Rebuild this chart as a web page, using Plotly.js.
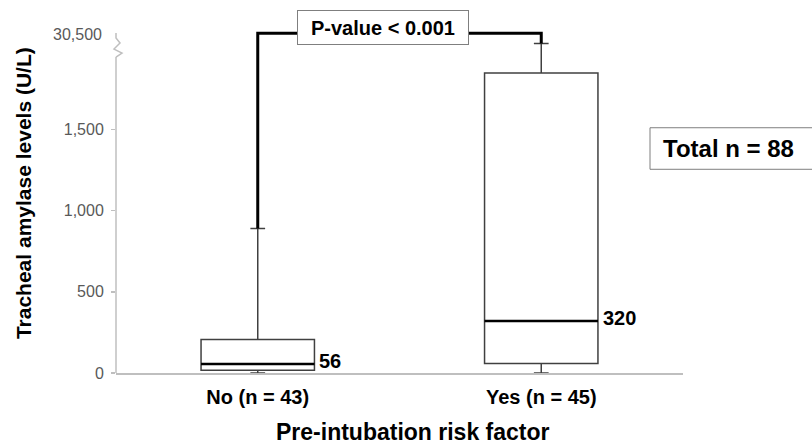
<!DOCTYPE html>
<html>
<head>
<meta charset="utf-8">
<script src="https://cdn.plot.ly/plotly-3.0.1.min.js"></script>
<style>html,body{margin:0;padding:0;background:#fff;}#chart{width:812px;height:445px;}</style>
</head>
<body>
<div id="chart"></div>
<script>
// ---- data ----
const categories = ['No (n = 43)', 'Yes (n = 45)'];
const lowerFence = [0, 0];
const q1 = [17, 58];
const median = [56, 320];
const q3 = [206, 1848];
const upperFence = [891, 30500];
const yTickVals = [0, 500, 1000, 1500];
const yTickText = ['0', '500', '1,000', '1,500'];
const brokenTickLabel = '30,500';
const pValueText = 'P-value < 0.001';
const totalText = 'Total n = 88';

// ---- broken axis handling ----
const AXIS_BREAK = 2000;     // values above this are drawn at the break
const BREAK_DRAW = 2031;     // axis position where values above the break are drawn
const BREAK_LABEL = 2083;    // axis position of the broken-axis tick label
const BREAK_START = 1947;    // where the axis line zigzag begins
const BRACKET_Y = 2093;
const toAxis = v => (v > AXIS_BREAK ? BREAK_DRAW : v);

const FONT = 'Liberation Sans, Arial, sans-serif';
const BOX_W = 0.4;

const traces = categories.map((c, i) => ({
  type: 'box',
  x: [i],
  q1: [toAxis(q1[i])],
  median: [toAxis(median[i])],
  q3: [toAxis(q3[i])],
  lowerfence: [toAxis(lowerFence[i])],
  upperfence: [toAxis(upperFence[i])],
  width: BOX_W,
  whiskerwidth: 0.13,
  boxpoints: false,
  fillcolor: 'rgba(255,255,255,1)',
  line: {color: '#404040', width: 1.5},
  hoverinfo: 'skip',
  showlegend: false
}));

const shapes = [];
// thick median lines
categories.forEach((c, i) => {
  shapes.push({type: 'line', xref: 'x', yref: 'y', x0: i - BOX_W / 2, x1: i + BOX_W / 2,
    y0: toAxis(median[i]), y1: toAxis(median[i]), line: {color: '#000', width: 2.5}});
});
// y axis line (broken)
shapes.push({type: 'line', xref: 'paper', yref: 'y', x0: 0, x1: 0, y0: 0, y1: BREAK_START,
  line: {color: '#bfbfbf', width: 1.5}});
shapes.push({type: 'path', xref: 'paper', yref: 'y', xsizemode: 'pixel', ysizemode: 'pixel',
  xanchor: 0, yanchor: BREAK_START,
  path: 'M0,0 L6,4 L-2,8 L4,14 L0,19 L0,24',
  line: {color: '#bfbfbf', width: 1.5}});
// significance bracket
shapes.push({type: 'path', xref: 'x', yref: 'y',
  path: 'M0,' + toAxis(upperFence[0]) + ' L0,' + BRACKET_Y + ' L1,' + BRACKET_Y + ' L1,' + toAxis(upperFence[1]),
  line: {color: '#000', width: 3}});
// Total box (extends past the right edge)
shapes.push({type: 'rect', xref: 'paper', yref: 'paper', x0: 0.9418, x1: 1.4, y0: 0.5706, y1: 0.687,
  line: {color: '#7f7f7f', width: 1}, fillcolor: 'rgba(0,0,0,0)'});

const annotations = [];
categories.forEach((c, i) => {
  annotations.push({xref: 'x', yref: 'y', x: i + BOX_W / 2, y: toAxis(median[i]),
    xanchor: 'left', yanchor: 'middle', xshift: 3, yshift: 3, showarrow: false,
    text: String(median[i]), font: {family: FONT, size: 20, color: '#000', weight: 'bold'}});
});
annotations.push({xref: 'paper', yref: 'y', x: 0, y: BREAK_LABEL, xanchor: 'right', yanchor: 'middle',
  xshift: -12, showarrow: false, text: brokenTickLabel, font: {family: FONT, size: 16, color: '#595959'}});
annotations.push({xref: 'paper', yref: 'y', x: 0.471, y: 2132, xanchor: 'center', yanchor: 'middle',
  showarrow: false, text: '<b>' + pValueText + '</b>', font: {family: FONT, size: 20, color: '#000'},
  bgcolor: '#ffffff', bordercolor: '#7f7f7f', borderwidth: 1, borderpad: 4, width: 162, height: 25});
annotations.push({xref: 'paper', yref: 'paper', x: 0.9612, y: 0.629, xanchor: 'left', yanchor: 'middle',
  showarrow: false, text: '<b>' + totalText + '</b>', font: {family: FONT, size: 24, color: '#000'}});
annotations.push({xref: 'paper', yref: 'paper', x: -0.164, y: 0.504, xanchor: 'center', yanchor: 'middle',
  textangle: -90, showarrow: false, text: '<b>Tracheal amylase levels (U/L)</b>',
  font: {family: FONT, size: 21, color: '#000'}});
annotations.push({xref: 'paper', yref: 'paper', x: 0.523, y: -0.1644, xanchor: 'center', yanchor: 'middle',
  showarrow: false, text: '<b>Pre-intubation risk factor</b>',
  font: {family: FONT, size: 23, color: '#000'}});

const layout = {
  width: 812, height: 445,
  margin: {l: 116, r: 129, t: 16, b: 72, pad: 0},
  paper_bgcolor: '#fff', plot_bgcolor: '#fff',
  showlegend: false,
  xaxis: {
    range: [-0.5, 1.5], tickvals: categories.map((c, i) => i), ticktext: categories.map(c => '<b>' + c + '</b>'),
    showgrid: false, zeroline: false, showline: true, linecolor: '#bfbfbf', linewidth: 1.5,
    ticks: '', ticklabelstandoff: 5, tickfont: {family: FONT, size: 20, color: '#000'}, fixedrange: true
  },
  yaxis: {
    range: [0, 2200], tickvals: yTickVals, ticktext: yTickText,
    showgrid: false, zeroline: false, showline: false,
    ticks: 'outside', ticklen: 4, tickcolor: '#bfbfbf', tickwidth: 1.5, ticklabelstandoff: 4,
    tickfont: {family: FONT, size: 16, color: '#595959'}, fixedrange: true
  },
  shapes: shapes,
  annotations: annotations
};

Plotly.newPlot('chart', traces, layout, {staticPlot: true, displayModeBar: false});
</script>
</body>
</html>
